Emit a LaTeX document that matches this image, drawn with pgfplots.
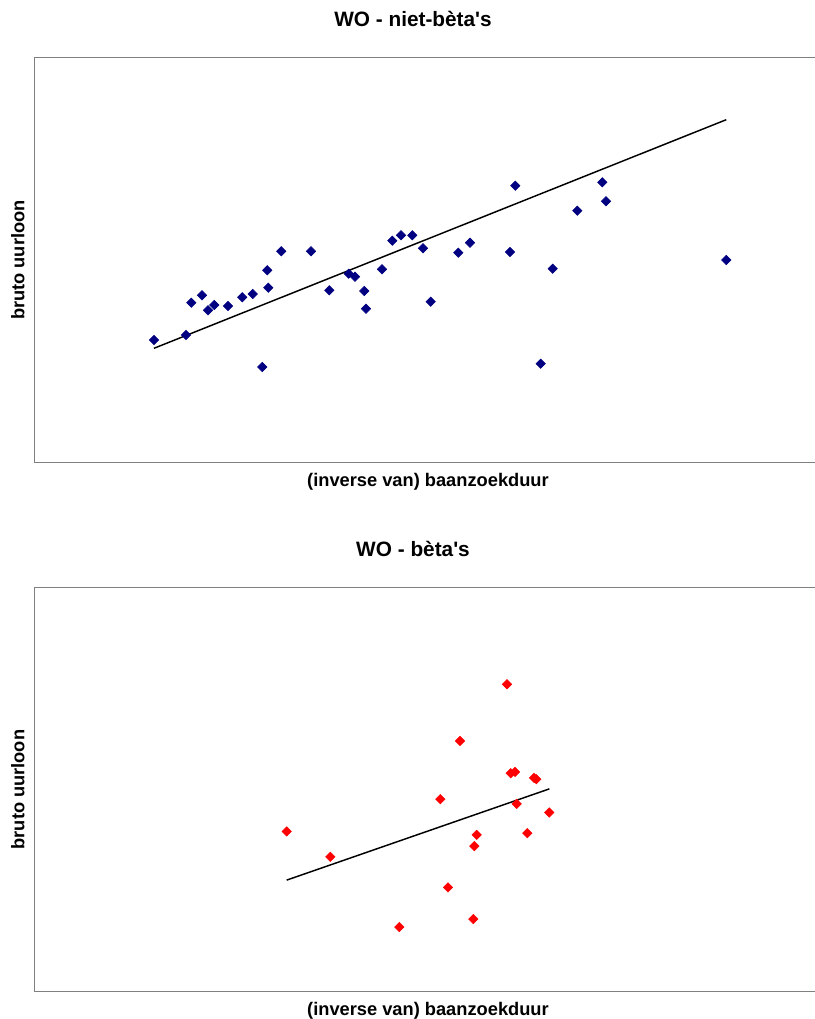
\documentclass[border=0pt]{standalone}
\usepackage{pgfplots}
\pgfplotsset{compat=1.18}
\usepackage{fontspec}
\setmainfont{Liberation Sans}

\definecolor{navypt}{HTML}{000080}
\definecolor{boxgray}{HTML}{808080}

\pgfplotsset{
  excelscatter/.style={
    scale only axis,
    width=587.625pt, height=303.225pt,
    xmin=34.5, xmax=818,
    xtick=\empty, ytick=\empty,
    axis line style={boxgray, line width=0.75pt},
    % default title style adds yshift=6pt, cancelled here
    title style={at={(axis description cs:0.4831,1.0767)}, anchor=base, yshift=-6pt,
      font=\fontsize{15.6}{18}\selectfont\bfseries},
    xlabel style={at={(axis description cs:0.5022,-0.0599)}, anchor=base,
      font=\fontsize{13.7}{16}\selectfont\bfseries},
    ylabel style={at={(axis description cs:-0.0211,0.5)}, anchor=center,
      font=\fontsize{13.7}{16}\selectfont\bfseries},
    xlabel={(inverse van) baanzoekduur},
    ylabel={bruto uurloon},
  },
  diam/.style={only marks, mark=square*, mark size=2.5pt,
    every mark/.append style={rotate=45}},
}

\begin{document}
\begin{tikzpicture}
\useasboundingbox (0,0) rectangle (610.5pt,764.25pt);

% bovenste grafiek: niet-beta's (y = -pixelhoogte)
\begin{axis}[excelscatter,
  at={(25.875pt,417.525pt)}, anchor=south west,
  ymin=-462.3, ymax=-58,
  title={WO - niet-bèta\textquotesingle s}]
\addplot[diam, color=navypt] coordinates {
  (154,-340) (186,-335) (191.3,-302.7) (202,-295.3) (208,-310.3)
  (214.3,-305) (228,-306) (242.3,-297.3) (252.7,-294) (267.3,-270.3)
  (268.3,-287.7) (281.3,-251.3) (262.3,-367) (311,-251.3) (329.3,-290.3)
  (348.7,-273.7) (355,-276.7) (364.3,-291) (366,-308.7) (382,-269.3)
  (392.3,-240.7) (401,-235.3) (412.3,-235.3) (423,-248.3) (430.7,-301.7)
  (458.3,-252.7) (470,-242.7) (515.3,-185.7) (510,-252) (552.7,-268.7)
  (540.7,-363.7) (577.3,-210.7) (602.3,-182.3) (606,-201.3) (726.3,-260)
};
\addplot[black, line width=1.1pt] coordinates {(154,-348.3) (726.3,-119.7)};
\end{axis}

% onderste grafiek: beta's
\begin{axis}[excelscatter,
  at={(25.875pt,20.475pt)}, anchor=south west,
  ymin=-991.7, ymax=-587,
  title={WO - bèta\textquotesingle s}]
\addplot[diam, color=red] coordinates {
  (286.7,-831.3) (330.3,-856.7) (399.3,-927) (440.3,-799) (448,-887.3)
  (460,-740.7) (476.7,-834.7) (474.3,-846) (473.3,-919) (507,-684)
  (510.7,-773) (515,-771.7) (516.7,-803.7) (534,-777.7) (536.3,-779)
  (527.3,-833) (549.3,-812.3)
};
\addplot[black, line width=1.1pt] coordinates {(286.7,-880) (549.3,-788.7)};
\end{axis}
\end{tikzpicture}
\end{document}
